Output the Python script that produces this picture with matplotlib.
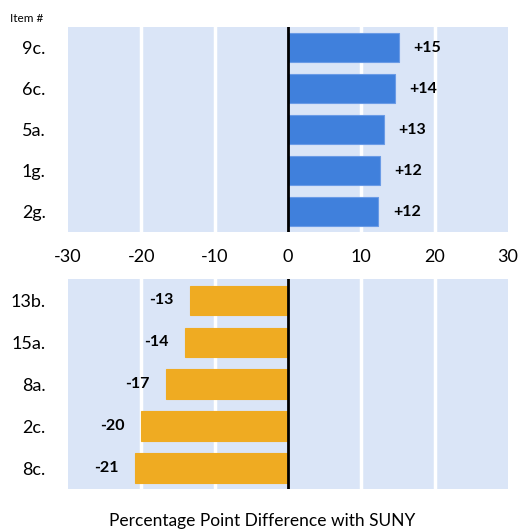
import matplotlib
matplotlib.use("Agg")
import matplotlib.pyplot as plt

top_items = ["9c.", "6c.", "5a.", "1g.", "2g."]
top_values = [15.1, 14.6, 13.1, 12.5, 12.3]
top_labels = ["+15", "+14", "+13", "+12", "+12"]

bot_items = ["13b.", "15a.", "8a.", "2c.", "8c."]
bot_values = [-13.4, -14.0, -16.7, -20.1, -20.8]
bot_labels = ["-13", "-14", "-17", "-20", "-21"]

xticks = [-30, -20, -10, 0, 10, 20, 30]

plt.rcParams['font.family'] = ['Lato', 'DejaVu Sans']
plt.rcParams['axes.unicode_minus'] = False

BG = "#dae5f7"
BLUE = "#4080dc"
ORANGE = "#efab22"

fig = plt.figure(figsize=(5.25, 5.31), dpi=100)
ax1 = fig.add_axes([0.1295, 0.563, 0.838, 0.386])
ax2 = fig.add_axes([0.1295, 0.079, 0.838, 0.395])


def style(ax, items, values, labels, color, show_xticks):
    ax.set_facecolor(BG)
    y = list(range(len(items)))
    ax.barh(y, values, height=0.7, color=color, edgecolor="#6a9be6" if color == BLUE else color,
            linewidth=0.8, zorder=3)
    ax.set_xlim(-30, 30)
    ax.set_ylim(len(items) - 0.5, -0.5)
    ax.set_yticks(y)
    ax.set_yticklabels(items, fontsize=13)
    ax.set_xticks(xticks)
    for g in [-20, -10, 10, 20]:
        ax.axvline(g, color="white", linewidth=2.5, zorder=1)
    ax.axvline(0, color="black", linewidth=2, zorder=4)
    for s in ax.spines.values():
        s.set_visible(False)
    ax.tick_params(axis="both", length=0)
    ax.tick_params(axis="y", pad=16)
    ax.tick_params(axis="x", labelsize=13, pad=12)
    if not show_xticks:
        ax.set_xticklabels([])
    for yi, v, lab in zip(y, values, labels):
        off = 3.9 if v > 0 else -3.9
        ax.text(v + off, yi, lab, ha="center", va="center", fontsize=11.5,
                fontweight="bold", color="black", zorder=5)


style(ax1, top_items, top_values, top_labels, BLUE, True)
style(ax2, bot_items, bot_values, bot_labels, ORANGE, False)

fig.text(0.019, 0.965, "Item #", fontsize=8.5, ha="left", va="center")
fig.text(0.5, 0.018, "Percentage Point Difference with SUNY", fontsize=12.5,
         ha="center", va="center")

fig.savefig("out.png", dpi=100)
